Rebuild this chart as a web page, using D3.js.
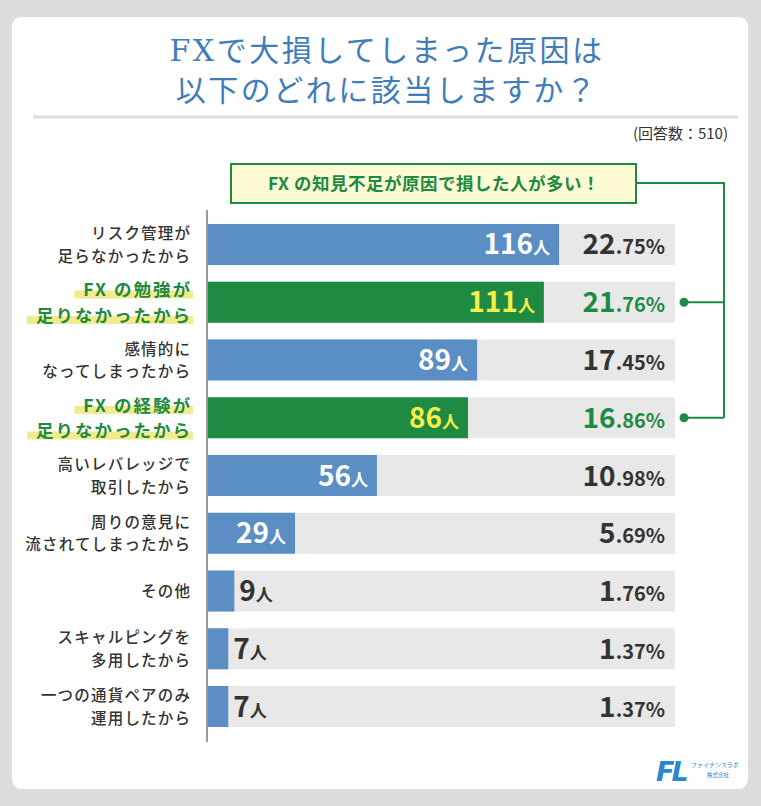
<!DOCTYPE html>
<html>
<head>
<meta charset="utf-8">
<script src="https://cdn.jsdelivr.net/npm/d3@7"></script>
<style>
  html, body { margin: 0; padding: 0; background: #dcdcdc; }
  svg { display: block; font-family: "Noto Sans CJK JP", "Noto Sans", sans-serif; }
</style>
</head>
<body>
<div id="plot"></div>
<script>
// Survey: FX loss reasons (n = 510)
const categories = [
  'リスク管理が\n足らなかったから',
  'FX の勉強が\n足りなかったから',
  '感情的に\nなってしまったから',
  'FX の経験が\n足りなかったから',
  '高いレバレッジで\n取引したから',
  '周りの意見に\n流されてしまったから',
  'その他',
  'スキャルピングを\n多用したから',
  '一つの通貨ペアのみ\n運用したから'
];
const counts = [116, 111, 89, 86, 56, 29, 9, 7, 7];
const percents = [22.75, 21.76, 17.45, 16.86, 10.98, 5.69, 1.76, 1.37, 1.37];
const highlighted = ['FX の勉強が\n足りなかったから', 'FX の経験が\n足りなかったから'];
const titleLines = ['FXで大損してしまった原因は', '以下のどれに該当しますか？'];
const respondents = 510;
const calloutText = 'FX の知見不足が原因で損した人が多い！';

function drawChart() {
  const W = 761, H = 806;
  const blue = '#5b8ec4', green = '#1f8a42', dark = '#333333', yellowTxt = '#f7ee4a';

  const svg = d3.select('#plot').append('svg').attr('width', W).attr('height', H);

  // card
  svg.append('rect').attr('x', 12).attr('y', 17).attr('width', 736).attr('height', 772)
    .attr('rx', 9).attr('fill', '#ffffff');

  // title
  svg.append('g').selectAll('text')
    .data(titleLines)
    .enter().append('text')
    .attr('x', 387)
    .attr('y', (d, i) => 61 + i * 40)
    .attr('text-anchor', 'middle')
    .style('font-family', '"DejaVu Serif", "Noto Sans CJK JP", serif')
    .style('font-size', '30px')
    .style('letter-spacing', '2.5px')
    .style('fill', '#3f7dba')
    .text(d => d);

  svg.append('line').attr('x1', 33).attr('x2', 738).attr('y1', 117).attr('y2', 117)
    .attr('stroke', '#dddddd').attr('stroke-width', 3);

  svg.append('text').attr('x', 728).attr('y', 139).attr('text-anchor', 'end')
    .style('font-size', '15px').style('fill', dark)
    .text(`(回答数：${respondents})`);

  // scales
  const x = d3.scaleLinear().domain([0, 154.2]).range([207, 675]);
  const y = d3.scaleBand().domain(categories).range([215.6, 735.4])
    .paddingInner(0.29).paddingOuter(0.145);

  const rows = categories.map((c, i) => ({
    cat: c, count: counts[i], pct: percents[i], hi: highlighted.includes(c)
  }));

  // background track
  svg.append('g').selectAll('rect')
    .data(rows).enter().append('rect')
    .attr('x', x(0)).attr('width', x.range()[1] - x(0))
    .attr('y', d => y(d.cat)).attr('height', y.bandwidth())
    .attr('fill', '#e8e8e8');

  // bars
  svg.append('g').selectAll('rect')
    .data(rows).enter().append('rect')
    .attr('x', x(0)).attr('width', d => x(d.count) - x(0))
    .attr('y', d => y(d.cat)).attr('height', y.bandwidth())
    .attr('fill', d => d.hi ? green : blue);

  // axis line
  svg.append('line').attr('x1', 207).attr('x2', 207).attr('y1', 210).attr('y2', 742)
    .attr('stroke', '#999999').attr('stroke-width', 2);

  // count labels
  const countG = svg.append('g').selectAll('text')
    .data(rows).enter().append('text')
    .attr('y', d => y(d.cat) + y.bandwidth() / 2 + 10)
    .style('font-weight', 'bold');
  countG.each(function (d) {
    const inside = d.count >= 20;
    const t = d3.select(this)
      .attr('x', inside ? x(d.count) - 9 : x(d.count) + 5)
      .attr('text-anchor', inside ? 'end' : 'start')
      .style('fill', inside ? (d.hi ? yellowTxt : '#ffffff') : dark);
    t.append('tspan').style('font-size', '28px').text(d.count);
    t.append('tspan').style('font-size', '17px').text('人');
  });

  // percent labels
  const pctG = svg.append('g').selectAll('text')
    .data(rows).enter().append('text')
    .attr('x', 665)
    .attr('y', d => y(d.cat) + y.bandwidth() / 2 + 10)
    .attr('text-anchor', 'end')
    .style('font-weight', 'bold')
    .style('fill', d => d.hi ? green : dark);
  pctG.each(function (d) {
    const s = d.pct.toFixed(2).split('.');
    const t = d3.select(this);
    t.append('tspan').style('font-size', '28px').text(s[0]);
    t.append('tspan').style('font-size', '20px').text('.' + s[1] + '%');
  });

  // category labels (one text per category, one tspan per line)
  const labelG = svg.append('g').selectAll('g')
    .data(rows).enter().append('g')
    .attr('transform', d => `translate(190, ${y(d.cat) + y.bandwidth() / 2})`);
  labelG.each(function (d) {
    const lines = d.cat.split('\n');
    const g = d3.select(this);
    const fs = d.hi ? 17.5 : 15.5;
    const ls = d.hi ? 2 : 1.2;
    const gap = fs * 0.73;
    const off = lines.length === 1 ? [0] : [-gap, gap];
    const t = g.append('text')
      .attr('text-anchor', 'end')
      .style('font-size', fs + 'px')
      .style('letter-spacing', ls + 'px')
      .style('font-weight', d.hi ? 'bold' : '500')
      .style('fill', d.hi ? green : dark);
    lines.forEach((ln, i) => {
      const sp = t.append('tspan')
        .attr('x', ls).attr('y', off[i] + fs * 0.38)
        .text(ln);
      if (d.hi) {
        const w = sp.node().getComputedTextLength();
        g.insert('rect', 'text')
          .attr('x', -w - 7).attr('y', off[i] + 1)
          .attr('width', w + 10).attr('height', 8)
          .attr('fill', '#f0ec8e');
      }
    });
  });

  // callout
  svg.append('rect').attr('x', 231).attr('y', 164).attr('width', 405).attr('height', 39)
    .attr('fill', '#fdfbd3').attr('stroke', green).attr('stroke-width', 2);
  svg.append('text').attr('x', 434).attr('y', 190).attr('text-anchor', 'middle')
    .style('font-size', '17.5px').style('font-weight', 'bold').style('fill', green)
    .style('letter-spacing', '0.5px')
    .text(calloutText);

  const hiRows = rows.filter(d => d.hi);
  const yLast = y(hiRows[hiRows.length - 1].cat) + y.bandwidth() / 2;
  svg.append('path')
    .attr('d', `M636,183 H724 V${yLast}`)
    .attr('fill', 'none').attr('stroke', green).attr('stroke-width', 2);
  hiRows.forEach(d => {
    const cy = y(d.cat) + y.bandwidth() / 2;
    svg.append('line').attr('x1', 684).attr('x2', 724).attr('y1', cy).attr('y2', cy)
      .attr('stroke', green).attr('stroke-width', 2);
    svg.append('circle').attr('cx', 684).attr('cy', cy).attr('r', 4.5).attr('fill', green);
  });

  // logo
  svg.append('text').attr('x', 656).attr('y', 781)
    .style('font-size', '27px').style('font-weight', 'bold').style('font-style', 'italic')
    .style('font-family', '"DejaVu Sans", sans-serif')
    .style('letter-spacing', '-3px')
    .style('fill', '#2a86d1').text('FL');
  svg.append('text').attr('x', 691).attr('y', 767)
    .style('font-size', '6px').style('fill', '#2a86d1').text('ファイナンスラボ');
  svg.append('text').attr('x', 718).attr('y', 777).attr('text-anchor', 'middle')
    .style('font-size', '5.5px').style('fill', '#2a86d1').text('株式会社');
}

drawChart();
</script>
</body>
</html>
